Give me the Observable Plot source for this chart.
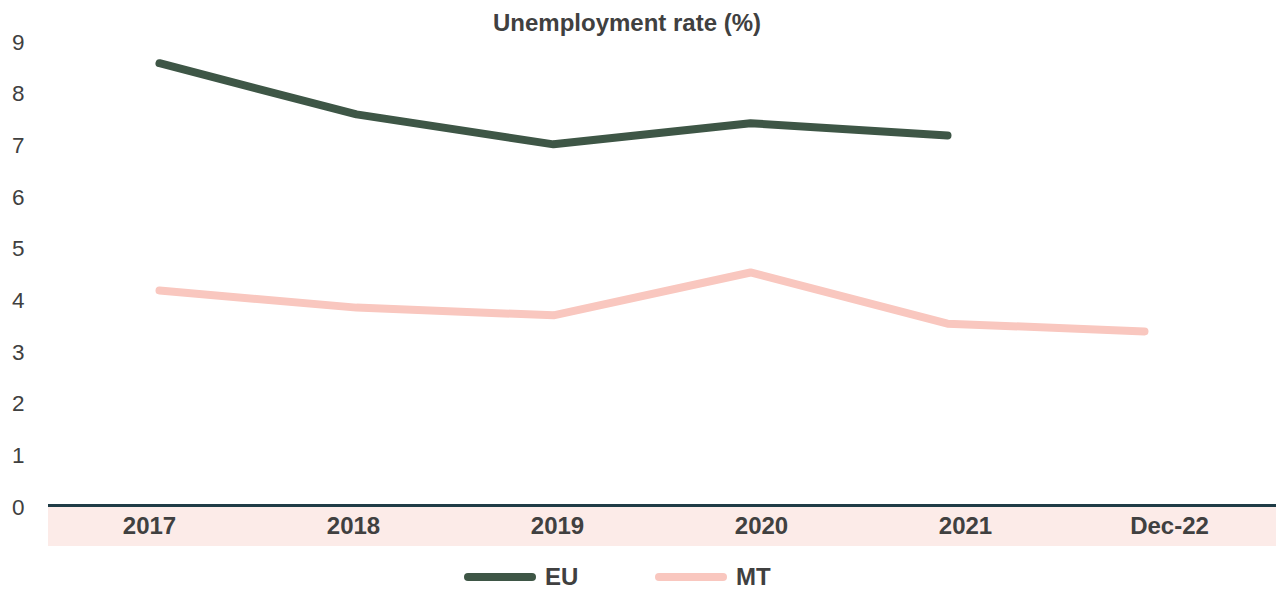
<!DOCTYPE html>
<html>
<head>
<meta charset="utf-8">
<script src="https://cdn.jsdelivr.net/npm/d3@7"></script>
<script src="https://cdn.jsdelivr.net/npm/@observablehq/plot@0.6"></script>
<style>
  html, body { margin: 0; padding: 0; background: #fff; }
  #wrap { position: relative; width: 1276px; height: 605px; font-family: "Liberation Sans", Arial, sans-serif; color: #404040; overflow: hidden; }
  #title { position: absolute; left: 0; top: 9px; width: 1254px; text-align: center; font-weight: bold; font-size: 24px; line-height: 28px; }
  #band { position: absolute; left: 48px; top: 506px; width: 1228px; height: 40px; background: #fcebe8; }
  .layer { position: absolute; left: 0; top: 0; }
  #legend { position: absolute; left: 0; top: 562px; width: 1276px; height: 30px; }
  .lg { position: absolute; top: 0; display: flex; align-items: center; height: 30px; font-weight: bold; font-size: 24px; }
  .lg svg { margin-right: 9px; }
</style>
</head>
<body>
<div id="wrap">
  <div id="band"></div>
  <div id="title">Unemployment rate (%)</div>
  <div id="axes" class="layer"></div>
  <div id="lines" class="layer"></div>
  <div id="legend"></div>
</div>
<script>
const categories = ["2017", "2018", "2019", "2020", "2021", "Dec-22"];
const euValues = [8.56, 7.57, 6.99, 7.40, 7.16];
const mtValues = [4.16, 3.83, 3.68, 4.51, 3.52, 3.37];
const yTicks = [0, 1, 2, 3, 4, 5, 6, 7, 8, 9];
const seriesNames = ["EU", "MT"];
const seriesColors = ["#3e5646", "#f9c7bf"];

const rows = [
  ...euValues.map((v, i) => ({series: "EU", cat: categories[i], value: v})),
  ...mtValues.map((v, i) => ({series: "MT", cat: categories[i], value: v}))
];

const W = 1276, H = 550;
const yOpts = {domain: [0, 9], range: [505, 40]};
const font = "'Liberation Sans', Arial, sans-serif";

const axes = Plot.plot({
  width: W, height: H,
  marginTop: 40, marginBottom: 45, marginLeft: 48, marginRight: 0,
  style: {background: "transparent", fontFamily: font, color: "#404040"},
  x: {type: "band", domain: categories, padding: 0},
  y: {...yOpts},
  marks: [
    Plot.axisY({ticks: yTicks, tickFormat: d => String(d), tickSize: 0, tickPadding: 24, fontSize: 22.5, dy: 2, fill: "#404040", label: null}),
    Plot.axisX({tickSize: 0, tickPadding: 11, fontSize: 24, fontWeight: "bold", dx: -3, fill: "#404040", label: null}),
    Plot.ruleY([0], {stroke: "#1f3c46", strokeWidth: 3})
  ]
});
document.getElementById("axes").append(axes);

const lines = Plot.plot({
  width: W, height: H,
  marginTop: 40, marginBottom: 45, marginLeft: 0, marginRight: 0,
  style: {background: "transparent"},
  x: {type: "point", domain: categories, range: [157, 1146], padding: 0, axis: null},
  y: {...yOpts, axis: null},
  color: {domain: seriesNames, range: seriesColors},
  marks: [
    Plot.line(rows, {x: "cat", y: "value", z: "series", stroke: "series", strokeWidth: 8, strokeLinecap: "round", strokeLinejoin: "miter"})
  ]
});
document.getElementById("lines").append(lines);

// legend
const legend = document.getElementById("legend");
const legendLeft = [464, 655];
seriesNames.forEach((name, i) => {
  const item = document.createElement("div");
  item.className = "lg";
  item.style.left = legendLeft[i] + "px";
  item.innerHTML = `<svg width="72" height="12"><line x1="4" y1="6" x2="68" y2="6" stroke="${seriesColors[i]}" stroke-width="8" stroke-linecap="round"/></svg><span>${name}</span>`;
  legend.append(item);
});
</script>
</body>
</html>
